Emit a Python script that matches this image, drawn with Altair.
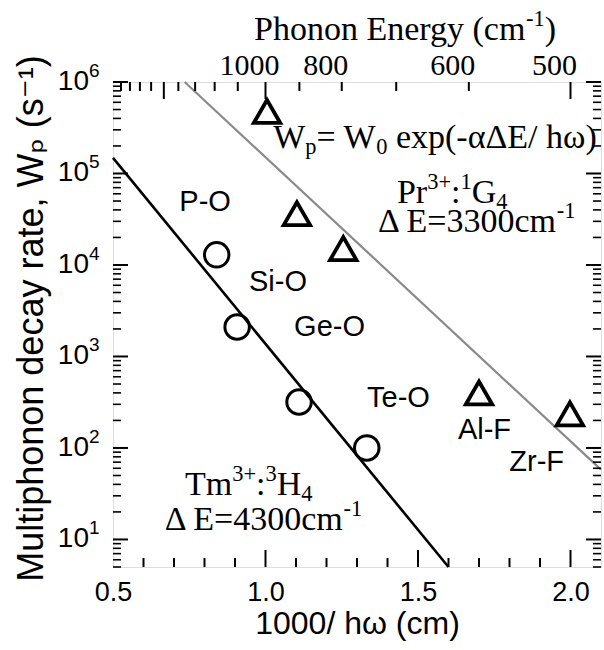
import altair as alt
import pandas as pd

# ---- data ----
# Tm3+ : 3H4 (open circles)
tm_x = [0.840, 0.907, 1.110, 1.332]
tm_w = [1.29e4, 2.1e3, 3.18e2, 1.0e2]
# Pr3+ : 1G4 (open triangles)
pr_x = [1.005, 1.103, 1.255, 1.700, 1.998]
pr_w = [4.76e5, 3.64e4, 1.51e4, 3.99e2, 2.36e2]
# fitted lines (end points)
tm_fit_x = [0.5, 1.60]
tm_fit_w = [1.48e5, 5.0]
pr_fit_x = [0.735, 2.1]
pr_fit_w = [1.0e6, 58.0]

bond_labels = ["P-O", "Si-O", "Ge-O", "Te-O", "Al-F", "Zr-F"]
bond_x = [0.802, 1.041, 1.210, 1.436, 1.718, 1.889]
bond_w = [4.89e4, 6.5e3, 2.1e3, 352, 157, 70]

# annotations: list of (text, kind) segments; kind n = normal, sup, sub
note_segments = [
    [("W", "n"), ("p", "sub"), ("= W", "n"), ("0", "sub"), (" exp(-αΔE/ hω)", "n")],
    [("Pr", "n"), ("3+", "sup"), (":", "n"), ("1", "sup"), ("G", "n"), ("4", "sub")],
    [("Δ E=3300cm", "n"), ("-1", "sup")],
    [("Tm", "n"), ("3+", "sup"), (":", "n"), ("3", "sup"), ("H", "n"), ("4", "sub")],
    [("Δ E=4300cm", "n"), ("-1", "sup")],
]
note_x = [1.025, 1.431, 1.369, 0.736, 0.670]
note_w = [1.9e5, 4.77e4, 2.3e4, 30.6, 12.7]
top_title_segments = [("Phonon Energy (cm", "n"), ("-1", "sup"), (")", "n")]

x_labels = [0.5, 1.0, 1.5, 2.0]
x_major = [1.0, 1.5, 2.0]
x_minor = [0.6, 0.7, 0.8, 0.9, 1.1, 1.2, 1.3, 1.4, 1.6, 1.7, 1.8, 1.9]
phonon_labels = [1000, 800, 600, 500]
phonon_major = [1500, 1000, 500]
phonon_minor = [1900, 1800, 1700, 1600, 1400, 1300, 1200, 1100, 900, 800, 700, 600]
y_decades = [10, 100, 1000, 10000, 100000, 1000000]
y_exps = ["1", "2", "3", "4", "5", "6"]
y_minor = [m * d for d in [1, 10, 100, 1000, 10000, 100000] for m in range(2, 10) if 5 <= m * d < 1e6]

sans = "Liberation Sans, Arial, DejaVu Sans"
serif = "Liberation Serif, Times New Roman, DejaVu Serif"

# Times-compatible advance widths (em) used to place sub/superscript pieces
TW = {"W": .944, "p": .5, "=": .564, " ": .25, "0": .5, "e": .444, "x": .5, "(": .333,
      ")": .333, "-": .333, "α": .55, "Δ": .61, "E": .611, "/": .278, "h": .5, "ω": .68,
      "P": .556, "r": .333, "3": .5, "+": .564, ":": .278, "1": .5, "G": .722, "4": .5,
      "c": .444, "m": .778, "T": .611, "H": .722, "o": .5, "n": .5, "g": .5, "y": .5}


def text_width(s, fs):
    return sum(TW.get(c, .5) for c in s) * fs


W, H = 488, 485
xs = alt.Scale(domain=[0.5, 2.1], nice=False, zero=False)
ys = alt.Scale(type="log", domain=[5, 1e6], nice=False)

xaxis = alt.Axis(values=x_labels, format=".1f", title="1000/ hω (cm)", grid=False,
                 ticks=False, domain=False, labelFont=sans, labelFontSize=27,
                 labelColor="black", labelPadding=12, labelFlush=False, labelOverlap=False,
                 titleFont=sans, titleFontSize=32, titleFontWeight="normal",
                 titleColor="black", titlePadding=3)
yaxis = alt.Axis(labels=False, ticks=False, domain=False, grid=False,
                 title="Multiphonon decay rate, Wₚ (s⁻¹)", titleFont=sans,
                 titleFontSize=36, titleFontWeight="normal", titleColor="black",
                 titlePadding=71, titleBaseline="alphabetic", titleY=236)

X = lambda: alt.X("x:Q", scale=xs, axis=xaxis)
Y = lambda: alt.Y("w:Q", scale=ys, axis=yaxis)

tm_df = pd.DataFrame({"x": tm_x, "w": tm_w})
pr_df = pd.DataFrame({"x": pr_x, "w": pr_w})
tmfit_df = pd.DataFrame({"x": tm_fit_x, "w": tm_fit_w})
prfit_df = pd.DataFrame({"x": pr_fit_x, "w": pr_fit_w})
bond_df = pd.DataFrame({"x": bond_x, "w": bond_w, "t": bond_labels})

layers = []
# fit lines
layers.append(alt.Chart(prfit_df).mark_line(color="#8a8a8a", strokeWidth=2.2).encode(x=X(), y=Y()))
layers.append(alt.Chart(tmfit_df).mark_line(color="black", strokeWidth=2.6).encode(x=X(), y=Y()))
# markers
layers.append(alt.Chart(tm_df).mark_point(shape="circle", size=600, filled=False, color="black",
                                          strokeWidth=3, opacity=1).encode(x=X(), y=Y()))
layers.append(alt.Chart(pr_df).mark_point(shape="triangle-up", size=700, filled=False, color="black",
                                          strokeWidth=3.8, opacity=1).encode(x=X(), y=Y()))
# bond labels
layers.append(alt.Chart(bond_df).mark_text(font=sans, fontSize=29, color="black", align="center",
                                           baseline="middle").encode(x=X(), y=Y(), text="t:N"))


def seg_style(kind, base):
    if kind == "n":
        return base, 0
    fs = base * 0.66
    return fs, (-0.40 * base if kind == "sup" else 0.18 * base)


def place_segments(segs, base, start):
    """Yield (text, fontsize, dx, dy) for each segment; leading blanks become offset."""
    off = start
    out = []
    for txt, kind in segs:
        fs, dy = seg_style(kind, base)
        stripped = txt.lstrip(" ")
        off += text_width(txt[:len(txt) - len(stripped)], fs)
        out.append((stripped, fs, off, dy))
        off += text_width(stripped, fs)
    return out, off


# serif annotations, anchored in data coordinates
NOTE_FS = 34
for segs, nx, nw in zip(note_segments, note_x, note_w):
    pieces, _ = place_segments(segs, NOTE_FS, 0.0)
    for txt, fs, dx, dy in pieces:
        df = pd.DataFrame({"x": [nx], "w": [nw], "t": [txt]})
        layers.append(alt.Chart(df).mark_text(font=serif, fontSize=fs, color="black", align="left",
                                              baseline="alphabetic", dx=dx, dy=dy).encode(
            x=X(), y=Y(), text="t:N"))

# top title "Phonon Energy (cm^-1)"
TITLE_FS = 34
_, total = place_segments(top_title_segments, TITLE_FS, 0.0)
pieces, _ = place_segments(top_title_segments, TITLE_FS, 292 - total / 2)
for txt, fs, px, dy in pieces:
    layers.append(alt.Chart(pd.DataFrame({"t": [txt]})).mark_text(
        font=serif, fontSize=fs, color="black", align="left", baseline="alphabetic", dy=dy).encode(
        x=alt.value(px), y=alt.value(-42), text="t:N"))


# inward ticks
def xrule(vals, y0, y1, sw):
    df = pd.DataFrame({"x": vals})
    return alt.Chart(df).mark_rule(color="black", strokeWidth=sw).encode(
        x=X(), y=alt.value(y0), y2=alt.value(y1))


def yrule(vals, x0, x1, sw):
    df = pd.DataFrame({"w": vals})
    return alt.Chart(df).mark_rule(color="black", strokeWidth=sw).encode(
        y=Y(), x=alt.value(x0), x2=alt.value(x1))


layers.append(xrule(x_major, H, H - 17, 2))
layers.append(xrule(x_minor, H, H - 9, 2))
layers.append(xrule([1000 / e for e in phonon_major], 0, 17, 2))
layers.append(xrule([1000 / e for e in phonon_minor], 0, 9, 2))
layers.append(yrule(y_decades, 0, 15, 2))
layers.append(yrule(y_minor, 0, 8, 1.6))
layers.append(yrule(y_decades, W, W - 15, 2))
layers.append(yrule(y_minor, W, W - 8, 1.6))

# top (phonon energy) tick labels
top_df = pd.DataFrame({"x": [1000 / e for e in phonon_labels], "t": [str(e) for e in phonon_labels]})
layers.append(alt.Chart(top_df).mark_text(font=serif, fontSize=30, color="black", align="center",
                                          baseline="alphabetic", dx=-16).encode(
    x=X(), y=alt.value(-7), text="t:N"))

# y tick labels 10^n
ylab_df = pd.DataFrame({"w": y_decades, "e": y_exps})
layers.append(alt.Chart(ylab_df).mark_text(font=sans, fontSize=28, color="black", align="right",
                                           baseline="middle").encode(
    y=Y(), x=alt.value(-24), text=alt.value("10")))
layers.append(alt.Chart(ylab_df).mark_text(font=sans, fontSize=19, color="black", align="left",
                                           baseline="middle", dy=-11).encode(
    y=Y(), x=alt.value(-24), text="e:N"))

chart = alt.layer(*layers).properties(
    width=W, height=H,
    autosize=alt.AutoSizeParams(type="none"),
    padding={"left": 113, "top": 82, "right": 3, "bottom": 83},
).configure_view(stroke="black", strokeWidth=2.5).configure(background="white")

chart.save("out.html", embed_options={"renderer": "svg", "actions": False})
